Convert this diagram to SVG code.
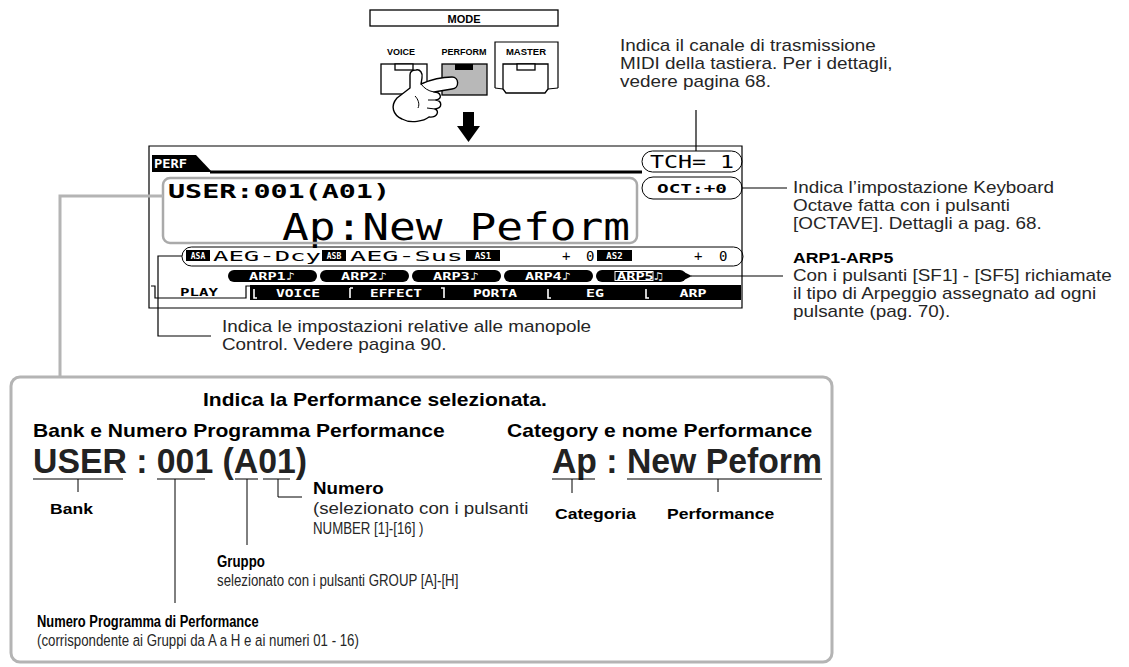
<svg xmlns="http://www.w3.org/2000/svg" width="1129" height="667" viewBox="0 0 1129 667">
  <style>
    .t{font-family:"Liberation Sans",Arial,Helvetica,sans-serif;font-size:16px;fill:#262626}
    .b{font-weight:bold;fill:#000}
    .lcd{font-family:"DejaVu Sans Mono","Liberation Mono",monospace;font-weight:bold;fill:#000}
    .inv{font-family:"DejaVu Sans Mono","Liberation Mono",monospace;font-weight:bold;fill:#fff}
    .ln{stroke:#000;stroke-width:1.2;fill:none}
    .thin{stroke:#000;stroke-width:1;fill:none}
    .grey{stroke:#b4b4b4;stroke-width:3;fill:none}
    .key{fill:#fff;stroke:#000;stroke-width:1.3}
    .pill{fill:#000}
  </style>
  <defs>
    <marker id="arrowL" viewBox="0 0 10 10" refX="1" refY="5" markerWidth="9" markerHeight="9" orient="auto-start-reverse" markerUnits="userSpaceOnUse">
      <path d="M0,5 L10,0 L10,10 Z" fill="#000"/>
    </marker>
  </defs>
  <rect width="1129" height="667" fill="#fff"/>

  <!-- MODE buttons -->
  <g id="mode-panel">
    <rect x="370" y="10" width="188" height="16" class="key"/>
    <text x="464" y="22.5" text-anchor="middle" class="t b" style="font-size:11px">MODE</text>
    <text x="401" y="55" text-anchor="middle" class="t b" style="font-size:9px">VOICE</text>
    <text x="464" y="55" text-anchor="middle" class="t b" style="font-size:9px">PERFORM</text>
    <text x="526" y="55" text-anchor="middle" class="t b" style="font-size:9.5px">MASTER</text>
    <path d="M495,88 V42 H558 V88" class="ln"/>
    <!-- VOICE key -->
    <rect x="381" y="64" width="46" height="30" class="key"/>
    <rect x="395" y="64" width="18" height="6" class="key"/>
    <!-- PERFORM key (lit) -->
    <rect x="442" y="64" width="45" height="31" fill="#b8b8b8" stroke="#000" stroke-width="1.3"/>
    <rect x="455" y="64" width="18" height="6" fill="#000"/>
    <!-- MASTER key -->
    <path d="M503,64 H548 V89 L545,93 H506 L503,89 Z" class="key"/>
    <rect x="517" y="64" width="18" height="6" class="key"/>
    <path d="M495,88 L503,89 M558,88 L548,89" class="thin"/>
    <!-- pressing hand -->
    <path d="M416,70 C420,69 423,73 422,78 L421,84 C430,80 440,77 452,77 C459,77 460,88 452,89 L434,92 C441,92 443,99 436,100 C442,101 443,108 435,109 C440,111 437,118 429,117 C424,121 411,124 402,119 C393,115 390,106 397,98 L410,88 L410,75 C410,71 413,70 416,70 Z" fill="#fff" stroke="#000" stroke-width="1.4" stroke-linejoin="round"/>
    <path d="M421,84 C424,88 428,91 434,92 M436,100 L428,100 M435,109 L427,108 M415,96 C418,99 420,104 418,108" class="thin"/>
    <!-- down arrow -->
    <polygon points="463,112 474,112 474,126 480,126 468.5,142 457,126 463,126" fill="#000"/>
  </g>

  <!-- LCD screen -->
  <g id="lcd">
    <path d="M149,308 V146 H742 V308 Z" class="ln" stroke-width="1.5"/>
    <path d="M152,155 H196 L212,172 H152 Z" fill="#000"/>
    <text x="154" y="168" class="inv" style="font-size:13px" textLength="33" lengthAdjust="spacingAndGlyphs">PERF</text>
    <line x1="210" y1="172" x2="642" y2="172" stroke="#000" stroke-width="3"/>
    <text x="168" y="198" class="lcd" style="font-size:20px" textLength="222" lengthAdjust="spacingAndGlyphs">USER:001(A01)</text>
    <text x="282" y="240" class="lcd" style="font-size:37px;font-weight:normal" textLength="348" lengthAdjust="spacingAndGlyphs">Ap:New Peform</text>
    <rect x="163" y="178" width="474" height="65" rx="7" fill="none" stroke="#aaa" stroke-width="2.5"/>
  </g>

  <!-- transmit channel / octave readouts -->
  <g id="tch">
    <rect x="642" y="151" width="100" height="21" rx="10.5" fill="#fff" class="thin"/>
    <text x="650" y="168" class="lcd" style="font-size:18px;font-weight:normal" textLength="84" lengthAdjust="spacingAndGlyphs">TCH= 1</text>
  </g>
  <g id="oct">
    <rect x="642" y="177" width="100" height="22" rx="11" fill="#fff" class="thin"/>
    <text x="657" y="192.5" class="lcd" style="font-size:12px" textLength="70" lengthAdjust="spacingAndGlyphs">OCT:+0</text>
  </g>

  <!-- knob assign row -->
  <g id="knob-row">
    <rect x="182" y="247" width="561" height="19" rx="9.5" fill="none" class="thin"/>
    <rect x="186" y="250" width="24" height="11" fill="#000"/>
    <text x="198" y="259" text-anchor="middle" class="inv" style="font-size:8px">ASA</text>
    <text x="213" y="261" class="lcd" style="font-size:14px;font-weight:normal" textLength="108" lengthAdjust="spacingAndGlyphs">AEG-Dcy</text>
    <rect x="322" y="250" width="24" height="11" fill="#000"/>
    <text x="334" y="259" text-anchor="middle" class="inv" style="font-size:8px">ASB</text>
    <text x="350" y="261" class="lcd" style="font-size:14px;font-weight:normal" textLength="113" lengthAdjust="spacingAndGlyphs">AEG-Sus</text>
    <rect x="466" y="250" width="34" height="11" fill="#000"/>
    <text x="483" y="259" text-anchor="middle" class="inv" style="font-size:9px">AS1</text>
    <text x="562" y="261" class="lcd" style="font-size:14px;font-weight:normal">+</text>
    <text x="586" y="261" class="lcd" style="font-size:14px;font-weight:normal">0</text>
    <rect x="597" y="250" width="35" height="11" fill="#000"/>
    <text x="614.5" y="259" text-anchor="middle" class="inv" style="font-size:9px">AS2</text>
    <text x="694" y="261" class="lcd" style="font-size:14px;font-weight:normal">+</text>
    <text x="719" y="261" class="lcd" style="font-size:14px;font-weight:normal">0</text>
  </g>

  <!-- arpeggio sub-function buttons -->
  <g id="arp-buttons">
    <rect x="228" y="270" width="89" height="12" rx="6" class="pill"/>
    <text x="272" y="280" text-anchor="middle" class="inv" style="font-size:11px" textLength="46" lengthAdjust="spacingAndGlyphs">ARP1♪</text>
    <rect x="320" y="270" width="89" height="12" rx="6" class="pill"/>
    <text x="364" y="280" text-anchor="middle" class="inv" style="font-size:11px" textLength="46" lengthAdjust="spacingAndGlyphs">ARP2♪</text>
    <rect x="412" y="270" width="89" height="12" rx="6" class="pill"/>
    <text x="456" y="280" text-anchor="middle" class="inv" style="font-size:11px" textLength="46" lengthAdjust="spacingAndGlyphs">ARP3♪</text>
    <rect x="504" y="270" width="89" height="12" rx="6" class="pill"/>
    <text x="548" y="280" text-anchor="middle" class="inv" style="font-size:11px" textLength="46" lengthAdjust="spacingAndGlyphs">ARP4♪</text>
    <rect x="596" y="270" width="90" height="12" rx="6" class="pill"/>
    <rect x="615" y="271.5" width="38" height="9" fill="none" stroke="#fff" stroke-width="1"/>
    <text x="640" y="280" text-anchor="middle" class="inv" style="font-size:11px" textLength="46" lengthAdjust="spacingAndGlyphs">ARP5♫</text>
  </g>

  <!-- function tabs -->
  <g id="tabs">
    <path d="M151,286 H155 V298 H246 V286 H250" class="ln" stroke-width="1.6"/>
    <text x="180" y="296" class="lcd" style="font-size:11px" textLength="38" lengthAdjust="spacingAndGlyphs">PLAY</text>
    <rect x="250" y="285" width="491" height="15" fill="#000"/>
    <path d="M254,289 V298 H257 M350,288 V298 M350,288 H353 M441,288 H444 V298 M548,289 V298 H551 M646,289 V298 H649" stroke="#fff" stroke-width="1.6" fill="none"/>
    <text x="298" y="296.5" text-anchor="middle" class="inv" style="font-size:11px" textLength="44" lengthAdjust="spacingAndGlyphs">VOICE</text>
    <text x="396" y="296.5" text-anchor="middle" class="inv" style="font-size:11px" textLength="52" lengthAdjust="spacingAndGlyphs">EFFECT</text>
    <text x="495" y="296.5" text-anchor="middle" class="inv" style="font-size:11px" textLength="44" lengthAdjust="spacingAndGlyphs">PORTA</text>
    <text x="595" y="296.5" text-anchor="middle" class="inv" style="font-size:11px" textLength="18" lengthAdjust="spacingAndGlyphs">EG</text>
    <text x="693" y="296.5" text-anchor="middle" class="inv" style="font-size:11px" textLength="27" lengthAdjust="spacingAndGlyphs">ARP</text>
  </g>

  <!-- callout notes -->
  <g id="note-tch" class="t" transform="translate(620 0) scale(1.18 1)">
    <text y="51">Indica il canale di trasmissione</text>
    <text y="69">MIDI della tastiera. Per i dettagli,</text>
    <text y="87">vedere pagina 68.</text>
  </g>
  <g id="note-oct" class="t" transform="translate(793 0) scale(1.18 1)">
    <text y="193">Indica l’impostazione Keyboard</text>
    <text y="211">Octave fatta con i pulsanti</text>
    <text y="229">[OCTAVE]. Dettagli a pag. 68.</text>
  </g>
  <g id="note-arp" class="t" transform="translate(793 0) scale(1.18 1)">
    <text y="263" class="b" style="font-size:15px">ARP1-ARP5</text>
    <text y="281">Con i pulsanti [SF1] - [SF5] richiamate</text>
    <text y="299">il tipo di Arpeggio assegnato ad ogni</text>
    <text y="317">pulsante (pag. 70).</text>
  </g>
  <g id="note-knob" class="t" transform="translate(222 0) scale(1.18 1)">
    <text y="332">Indica le impostazioni relative alle manopole</text>
    <text y="350">Control. Vedere pagina 90.</text>
  </g>

  <!-- connectors -->
  <g id="connectors">
    <line x1="696" y1="110" x2="696" y2="151" class="ln"/>
    <line x1="742" y1="188" x2="787" y2="188" class="ln"/>
    <line x1="783" y1="276" x2="691" y2="276" class="ln" marker-end="url(#arrowL)"/>
    <polyline points="182,256 158,256 158,336 211,336" class="ln"/>
    <polyline points="163,196 60,196 60,377" class="grey"/>
  </g>

  <!-- selected performance detail -->
  <g id="detail-box">
    <rect x="11" y="377" width="821" height="285" rx="9" class="grey"/>
    <g class="t b" transform="translate(203 0) scale(1.17 1)">
      <text y="406" style="font-size:18px">Indica la Performance selezionata.</text>
    </g>
    <g class="t b" transform="translate(33 0) scale(1.17 1)">
      <text y="437" style="font-size:18px">Bank e Numero Programma Performance</text>
    </g>
    <g class="t b" transform="translate(507 0) scale(1.17 1)">
      <text y="437" style="font-size:18px">Category e nome Performance</text>
    </g>
    <text x="33" y="473" class="t b" style="font-size:35px;fill:#222" textLength="274" lengthAdjust="spacingAndGlyphs">USER : 001 (A01)</text>
    <text x="552" y="473" class="t b" style="font-size:35px;fill:#222" textLength="270" lengthAdjust="spacingAndGlyphs">Ap : New Peform</text>
    <path d="M33,479 H123 M157,479 H205 M235,479 H258 M263,479 H290 M552,479 H595 M627,479 H822" class="ln"/>
    <path d="M78,479 V492 M175,479 V603 M247,479 V545 M278,479 V497 H302 M572,479 V493 M718,479 V492" class="thin"/>
    <g class="t b" transform="translate(50 0) scale(1.17 1)"><text y="514" style="font-size:15px">Bank</text></g>
    <g class="t" transform="translate(313 0) scale(1.17 1)">
      <text y="494" class="b">Numero</text>
      <text y="514">(selezionato con i pulsanti</text>
    </g>
    <g class="t" transform="translate(313 0) scale(0.78 1)">
      <text y="534" style="font-size:17px">NUMBER [1]-[16] )</text>
    </g>
    <g class="t b" transform="translate(555 0) scale(1.17 1)"><text y="519" style="font-size:15px">Categoria</text></g>
    <g class="t b" transform="translate(667 0) scale(1.17 1)"><text y="519" style="font-size:15px">Performance</text></g>
    <g class="t" transform="translate(217 0) scale(0.78 1)">
      <text y="567" class="b" style="font-size:17px">Gruppo</text>
      <text y="586" style="font-size:17px">selezionato con i pulsanti GROUP [A]-[H]</text>
    </g>
    <g class="t" transform="translate(37 0) scale(0.76 1)">
      <text y="627" class="b" style="font-size:17px">Numero Programma di Performance</text>
    </g>
    <g class="t" transform="translate(37 0) scale(0.78 1)">
      <text y="646" style="font-size:17px"> (corrispondente ai Gruppi da A a H e ai numeri 01 - 16)</text>
    </g>
  </g>
</svg>
